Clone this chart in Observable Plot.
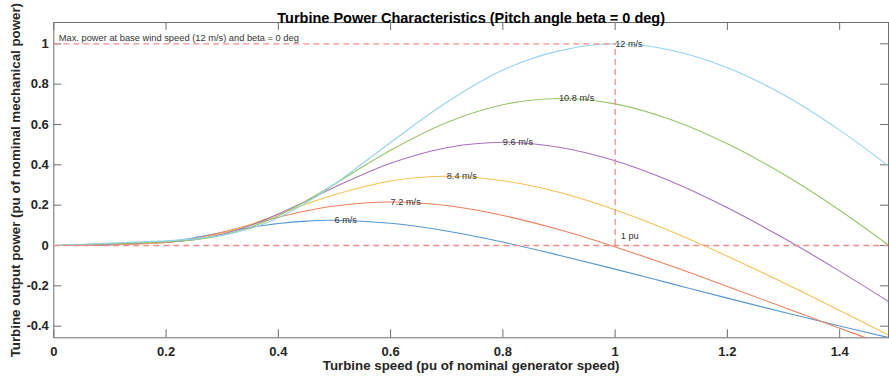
<!DOCTYPE html>
<html>
<head>
<meta charset="utf-8">
<script src="https://cdn.jsdelivr.net/npm/d3@7"></script>
<script src="https://cdn.jsdelivr.net/npm/@observablehq/plot@0.6"></script>
<style>
  body { margin: 0; background: #fff; }
</style>
</head>
<body>
<div id="chart"></div>
<script>
// Turbine speed samples (pu of nominal generator speed)
const speed = [0, 0.1, 0.2, 0.25, 0.3, 0.35, 0.4, 0.45, 0.5, 0.6, 0.7, 0.8, 0.9, 1.0, 1.1, 1.2, 1.3, 1.4, 1.49];

// Output power (pu of nominal mechanical power) for each wind speed
const p6   = [0, 0.003, 0.017, 0.038, 0.064, 0.089, 0.109, 0.121, 0.125, 0.110, 0.072, 0.017, -0.048, -0.117, -0.189, -0.261, -0.331, -0.399, -0.458];
const p72  = [0, 0.004, 0.015, 0.035, 0.066, 0.103, 0.140, 0.172, 0.196, 0.216, 0.198, 0.149, 0.079, -0.007, -0.102, -0.203, -0.306, -0.410, -0.502];
const p84  = [0, 0.006, 0.015, 0.031, 0.061, 0.104, 0.155, 0.206, 0.252, 0.320, 0.343, 0.321, 0.264, 0.177, 0.069, -0.053, -0.185, -0.322, -0.448];
const p96  = [0, 0.007, 0.017, 0.029, 0.056, 0.099, 0.156, 0.221, 0.289, 0.408, 0.485, 0.512, 0.487, 0.420, 0.317, 0.187, 0.037, -0.127, -0.283];
const p108 = [0, 0.009, 0.019, 0.029, 0.051, 0.091, 0.148, 0.222, 0.304, 0.472, 0.610, 0.698, 0.729, 0.702, 0.623, 0.504, 0.353, 0.175, -0.004];
const p12  = [0, 0.012, 0.023, 0.033, 0.050, 0.084, 0.138, 0.213, 0.304, 0.511, 0.710, 0.870, 0.965, 1.000, 0.968, 0.881, 0.747, 0.572, 0.388];

// Wind speed labels, placed at the maximum-power point of each curve
const windLabels = ["6 m/s", "7.2 m/s", "8.4 m/s", "9.6 m/s", "10.8 m/s", "12 m/s"];
const peakSpeed  = [0.5, 0.6, 0.7, 0.8, 0.9, 1.0];
const peakPower  = [0.125, 0.216, 0.343, 0.512, 0.729, 1.0];
const lineColors = ["#5596d4", "#ee805c", "#f3c252", "#a871bf", "#98c567", "#94d4ec"];

// Reference lines: base speed and maximum power
const baseSpeed = [1];
const basePower = [1];
const zeroPower = [0];
const puNote = [{speed: 1.01, power: 0.045, text: "1 pu"}];
const maxNote = "Max. power at base wind speed (12 m/s) and beta = 0 deg";

// Axis ticks
const xTicks = [0, 0.2, 0.4, 0.6, 0.8, 1, 1.2, 1.4];
const yTicks = [-0.4, -0.2, 0, 0.2, 0.4, 0.6, 0.8, 1];

const series = [p6, p72, p84, p96, p108, p12];
const rows = series.flatMap((s, i) => s.map((p, j) => ({speed: speed[j], power: p, wind: windLabels[i]})));
const peaks = windLabels.map((w, i) => ({wind: w, speed: peakSpeed[i], power: peakPower[i]}));

const W = 889, H = 382;
const mt = 22, mb = 44.7, ml = 53.3, mr = 1;
const frameW = W - ml - mr, frameH = H - mt - mb;
const tickLen = 8;
const font = "'Liberation Sans', Arial, Helvetica, sans-serif";
const axisGray = "#6e6e6e";
const dashRed = "#f38a8a";
const dash = "6,4";

const chart = Plot.plot({
  width: W,
  height: H,
  marginTop: mt,
  marginBottom: mb,
  marginLeft: ml,
  marginRight: mr,
  style: {fontFamily: font, background: "#fff", color: "#262626", overflow: "visible"},
  x: {domain: [0, 1.487]},
  y: {domain: [-0.4576, 1.1056]},
  color: {domain: windLabels, range: lineColors},
  marks: [
    // frame and inward ticks on all four sides
    Plot.frame({stroke: axisGray, strokeWidth: 1}),
    Plot.ruleX(xTicks, {x: d => d, insetTop: frameH - tickLen, stroke: axisGray}),
    Plot.ruleX(xTicks, {x: d => d, insetBottom: frameH - tickLen, stroke: axisGray}),
    Plot.ruleY(yTicks, {y: d => d, insetRight: frameW - tickLen, stroke: axisGray}),
    Plot.ruleY(yTicks, {y: d => d, insetLeft: frameW - tickLen, stroke: axisGray}),

    // power curves
    Plot.line(rows, {x: "speed", y: "power", z: "wind", stroke: "wind", curve: "catmull-rom", strokeWidth: 1.1, clip: true}),

    // dashed reference lines
    Plot.ruleY(zeroPower, {y: d => d, stroke: dashRed, strokeDasharray: dash, strokeWidth: 1.3}),
    Plot.ruleY(basePower, {y: d => d, x1: 0, x2: baseSpeed[0], stroke: dashRed, strokeDasharray: dash, strokeWidth: 1.3}),
    Plot.ruleX(baseSpeed, {x: d => d, y1: 0, y2: basePower[0], stroke: dashRed, strokeDasharray: dash, strokeWidth: 1.3}),

    // curve labels
    Plot.text(peaks, {x: "speed", y: "power", text: "wind", textAnchor: "start", fontSize: 9.2, fill: "#333"}),
    Plot.text(puNote, {x: "speed", y: "power", text: "text", textAnchor: "start", fontSize: 9.2, fill: "#333"}),
    Plot.text([maxNote], {frameAnchor: "top-left", dx: 5, dy: 12.3, textAnchor: "start", fontSize: 9.3, fill: "#333"}),

    // tick labels
    Plot.axisX({ticks: xTicks, tickSize: 0, tickPadding: 9, tickFormat: d => String(d), label: null,
                fontSize: 13, fontWeight: "bold", fill: "#262626"}),
    Plot.axisY({ticks: yTicks, tickSize: 0, tickPadding: 5, tickFormat: d => String(d), label: null,
                fontSize: 13, fontWeight: "bold", fill: "#262626"}),

    // titles
    Plot.text(["Turbine Power Characteristics (Pitch angle beta = 0 deg)"],
      {frameAnchor: "top", dy: -10, fontSize: 14.5, fontWeight: 900, fill: "#000"}),
    Plot.text(["Turbine speed (pu of nominal generator speed)"],
      {frameAnchor: "bottom", dy: 32, fontSize: 13.3, fontWeight: "bold", fill: "#262626"}),
    Plot.text(["Turbine output power (pu of nominal mechanical power)"],
      {frameAnchor: "left", dx: -38.3, rotate: -90, textAnchor: "middle", fontSize: 13.3, fontWeight: "bold", fill: "#262626"})
  ]
});

document.getElementById("chart").append(chart);
</script>
</body>
</html>
